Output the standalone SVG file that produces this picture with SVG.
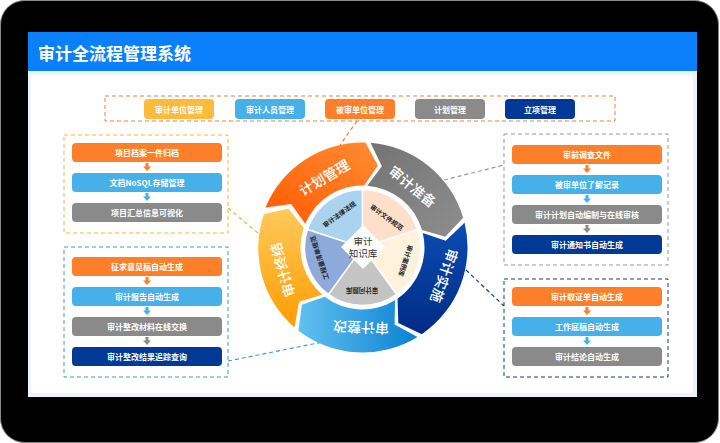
<svg xmlns="http://www.w3.org/2000/svg" xmlns:xlink="http://www.w3.org/1999/xlink" width="720" height="443" viewBox="0 0 720 443">
<defs>
<style>
text{font-family:"Noto Sans CJK SC","Noto Sans",sans-serif;}
.bt{font-size:8px;font-weight:bold;fill:#fff;text-anchor:middle;dominant-baseline:central;}
.rl{font-size:14px;font-weight:500;fill:#fff;text-anchor:middle;dominant-baseline:central;}
.pl{font-size:6.5px;font-weight:bold;fill:#222;text-anchor:middle;dominant-baseline:central;}
.cl{font-size:9.5px;fill:#333;text-anchor:middle;dominant-baseline:central;}
.box{fill:none;stroke-width:1;stroke-dasharray:4,3;}
.dl{fill:none;stroke-width:1.2;stroke-dasharray:4,3;}
.or{fill:#fe7f29;}.lb{fill:#46b1e8;}.gy{fill:#8a8a8a;}.nv{fill:#003a96;}.yw{fill:#fcbb3d;}
</style>
<path id="arr" d="M-1.5,0 h3 v3.5 h2.5 l-4,4.5 l-4,-4.5 h2.5 z"/>
<linearGradient id="gPlan" x1="0" y1="1" x2="1" y2="0"><stop offset="0" stop-color="#ff5a00"/><stop offset="1" stop-color="#ff8c33"/></linearGradient>
<linearGradient id="gPrep" x1="0" y1="0" x2="1" y2="1"><stop offset="0" stop-color="#737373"/><stop offset="1" stop-color="#8e8e8e"/></linearGradient>
<linearGradient id="gImpl" x1="0" y1="0" x2="0" y2="1"><stop offset="0" stop-color="#0a4db0"/><stop offset="1" stop-color="#002b85"/></linearGradient>
<linearGradient id="gRect" x1="0" y1="0" x2="1" y2="0"><stop offset="0" stop-color="#62c0f0"/><stop offset="1" stop-color="#0a82d2"/></linearGradient>
<linearGradient id="gEnd" x1="0" y1="1" x2="0" y2="0"><stop offset="0" stop-color="#ff9c00"/><stop offset="1" stop-color="#ffca5c"/></linearGradient>
</defs>

<g id="frame">
<rect x="0.5" y="0.5" width="718" height="442" rx="24" fill="#000" stroke="#888" stroke-width="1"/>
<rect x="28" y="32" width="669" height="365" fill="#eef2fb"/>
<rect x="28" y="32" width="669" height="39" fill="#0b80fd"/>
<text x="38" y="52" font-size="17" font-weight="bold" fill="#fff" dominant-baseline="central">审计全流程管理系统</text>
<rect x="31" y="75" width="662" height="318" rx="3" fill="#fff"/>
</g>

<g id="connectors">
<line class="dl" x1="357" y1="121" x2="340" y2="145" stroke="#f47c30"/>
<line class="dl" x1="228" y1="208" x2="258" y2="233" stroke="#fbb03b"/>
<line class="dl" x1="228" y1="361" x2="323" y2="342" stroke="#3a9ad8"/>
<line class="dl" x1="444" y1="180" x2="504" y2="165" stroke="#999"/>
<line class="dl" x1="466" y1="270" x2="504" y2="306" stroke="#1b3a7a"/>
</g>

<g id="topbar">
<rect class="box" x="105" y="96" width="510" height="25" stroke="#f47c30"/>
<rect class="yw" x="144" y="99" width="70" height="20" rx="4"/><text class="bt" x="179" y="109">审计单位管理</text>
<rect class="lb" x="235" y="99" width="70" height="20" rx="4"/><text class="bt" x="270" y="109">审计人员管理</text>
<rect class="or" x="325" y="99" width="70" height="20" rx="4"/><text class="bt" x="360" y="109">被审单位管理</text>
<rect class="gy" x="415" y="99" width="70" height="20" rx="4"/><text class="bt" x="450" y="109">计划管理</text>
<rect class="nv" x="505" y="99" width="70" height="20" rx="4"/><text class="bt" x="540" y="109">立项管理</text>
</g>

<g id="left-top">
<rect class="box" x="64" y="135" width="164" height="98" stroke="#fbb03b"/>
<rect class="or" x="72" y="143" width="150" height="19" rx="4"/><text class="bt" x="147" y="152.5">项目档案一件归档</text>
<use xlink:href="#arr" x="147" y="163" class="or"/>
<rect class="lb" x="72" y="173" width="150" height="19" rx="4"/><text class="bt" x="147" y="182.5">文档NoSQL存储管理</text>
<use xlink:href="#arr" x="147" y="193" class="lb"/>
<rect class="gy" x="72" y="203" width="150" height="19" rx="4"/><text class="bt" x="147" y="212.5">项目汇总信息可视化</text>
</g>

<g id="left-bottom">
<rect class="box" x="64" y="247" width="164" height="130" stroke="#3a9ad8"/>
<rect class="or" x="72" y="257" width="150" height="19" rx="4"/><text class="bt" x="147" y="266.5">征求意见稿自动生成</text>
<use xlink:href="#arr" x="147" y="277" class="or"/>
<rect class="lb" x="72" y="287" width="150" height="19" rx="4"/><text class="bt" x="147" y="296.5">审计报告自动生成</text>
<use xlink:href="#arr" x="147" y="307" class="lb"/>
<rect class="gy" x="72" y="317" width="150" height="19" rx="4"/><text class="bt" x="147" y="326.5">审计整改材料在线交换</text>
<use xlink:href="#arr" x="147" y="337" class="gy"/>
<rect class="nv" x="72" y="347" width="150" height="19" rx="4"/><text class="bt" x="147" y="356.5">审计整改结果追踪查询</text>
</g>

<g id="right-top">
<rect class="box" x="504" y="134" width="164" height="131" stroke="#999"/>
<rect class="or" x="512" y="145" width="150" height="19" rx="4"/><text class="bt" x="587" y="154.5">审前调查文件</text>
<use xlink:href="#arr" x="587" y="165" class="or"/>
<rect class="lb" x="512" y="175" width="150" height="19" rx="4"/><text class="bt" x="587" y="184.5">被审单位了解记录</text>
<use xlink:href="#arr" x="587" y="195" class="lb"/>
<rect class="gy" x="512" y="205" width="150" height="19" rx="4"/><text class="bt" x="587" y="214.5">审计计划自动编制与在线审核</text>
<use xlink:href="#arr" x="587" y="225" class="gy"/>
<rect class="nv" x="512" y="235" width="150" height="19" rx="4"/><text class="bt" x="587" y="244.5">审计通知书自动生成</text>
</g>

<g id="right-bottom">
<rect class="box" x="504" y="279" width="164" height="98" stroke="#1b3a7a"/>
<rect class="or" x="512" y="287" width="150" height="19" rx="4"/><text class="bt" x="587" y="296.5">审计取证单自动生成</text>
<use xlink:href="#arr" x="587" y="307" class="or"/>
<rect class="lb" x="512" y="317" width="150" height="19" rx="4"/><text class="bt" x="587" y="326.5">工作底稿自动生成</text>
<use xlink:href="#arr" x="587" y="337" class="lb"/>
<rect class="gy" x="512" y="347" width="150" height="19" rx="4"/><text class="bt" x="587" y="356.5">审计结论自动生成</text>
</g>

<g id="ring">
<g id="seg-plan">
<path fill="url(#gPlan)" d="M265.43,207.48 A105,105 0 0 1 365.43,142.54 L377.86,165.42 L364.23,185.52 A62,62 0 0 0 305.18,223.87 L291.23,204.0 Z"/>
<text class="rl" transform="translate(324,177) rotate(-31)">计划管理</text>
</g>
<g id="seg-prep">
<path fill="url(#gPrep)" d="M370.56,142.81 A105,105 0 0 1 463.23,217.85 L445.30,236.75 L421.98,229.99 A62,62 0 0 0 367.26,185.68 L381.85,166.27 Z"/>
<text class="rl" transform="translate(413,186) rotate(39)">审计准备</text>
</g>
<g id="seg-impl">
<path fill="url(#gImpl)" d="M464.56,222.81 A105,105 0 0 1 421.82,334.14 L398.32,322.93 L397.53,298.66 A62,62 0 0 0 422.76,232.92 L445.73,240.80 Z"/>
<text class="rl" transform="translate(445,276) rotate(109)">审计实施</text>
</g>
<g id="seg-rect">
<path fill="url(#gRect)" d="M417.52,336.93 A105,105 0 0 1 298.46,330.71 L301.82,304.87 L324.69,296.63 A62,62 0 0 0 394.99,300.31 L394.59,324.59 Z"/>
<text class="rl" transform="translate(361,328) rotate(182)">审计整改</text>
</g>
<g id="seg-end">
<path fill="url(#gEnd)" d="M294.45,327.46 A105,105 0 0 1 263.98,214.01 L288.50,208.81 L303.74,227.72 A62,62 0 0 0 322.32,294.72 L299.10,301.84 Z"/>
<text class="rl" transform="translate(282,270) rotate(254)">审计终结</text>
</g>
</g>

<g id="knowledge">
<g stroke="#fff" stroke-width="1.5">
<path fill="#a9d3ef" d="M362.5,247.5 L307.34,229.58 A58,58 0 0 1 362.5,189.5 Z"/>
<path fill="#fddfca" d="M362.5,247.5 L362.5,189.5 A58,58 0 0 1 417.66,229.58 Z"/>
<path fill="#fff1dc" d="M362.5,247.5 L417.66,229.58 A58,58 0 0 1 396.59,294.42 Z"/>
<path fill="#c4c4c4" d="M362.5,247.5 L396.59,294.42 A58,58 0 0 1 328.41,294.42 Z"/>
<path fill="#8eaadb" d="M362.5,247.5 L328.41,294.42 A58,58 0 0 1 307.34,229.58 Z"/>
</g>
<text class="pl" transform="translate(339,214) rotate(-36)">审计法律法规</text>
<text class="pl" transform="translate(387,217) rotate(36)">审计文件规范</text>
<text class="pl" transform="translate(406,261) rotate(108)">审计案例库</text>
<text class="pl" transform="translate(362,291) rotate(180)">审计问题库</text>
<text class="pl" transform="translate(319,258) rotate(252)">工程量清单规范</text>
<polygon points="363,225 385,247 363,269 341,247" fill="#fff"/>
<text class="cl" x="363" y="240.5">审计</text>
<text class="cl" x="363" y="253">知识库</text>
</g>
</svg>
